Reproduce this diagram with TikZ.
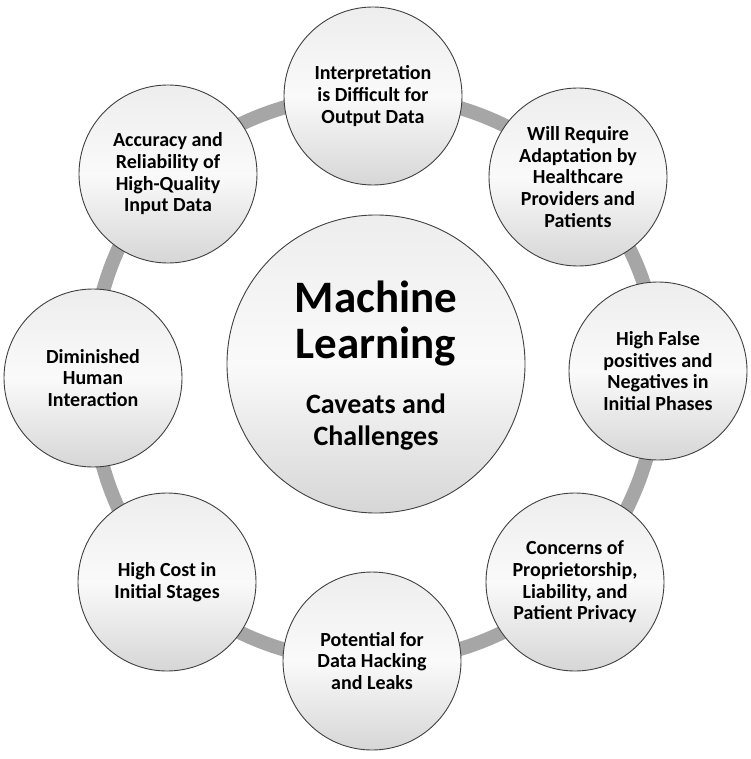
\documentclass[tikz,border=0pt]{standalone}
\usepackage{fontspec}
\setmainfont{Carlito}
\usetikzlibrary{backgrounds}
\definecolor{ringgray}{HTML}{A6A6A6}
\definecolor{edgegray}{HTML}{404040}
\begin{document}
\begin{tikzpicture}[x=1pt,y=-1pt,
  bubble/.style={circle, draw=edgegray, line width=0.9pt, minimum size=178pt, inner sep=0pt,
    top color=gray!14, bottom color=gray!32, middle color=white!96!gray,
    align=center, font=\bfseries\fontsize{20}{21.7}\selectfont},
  hub/.style={bubble, minimum size=298pt},
  ring/.style={draw=ringgray, line width=14pt, bend left=22.5, looseness=0.885},
  titletext/.style={align=center, font=\bfseries\fontsize{45}{46}\selectfont},
  subtext/.style={align=center, font=\bfseries\fontsize{28}{32}\selectfont}
]
\useasboundingbox (0,0) rectangle (750,759);

\node[hub] (ml) at (376,364) {};
\node[titletext] (mltitle) at (376,324) {Machine\\Learning};
\node[subtext] (mlsub) at (376,422) {Caveats and\\Challenges};

\node[bubble] (top) at (373,96) {Interpretation\\is Difficult for\\Output Data};
\node[bubble] (tr) at (578,177) {Will Require\\Adaptation by\\Healthcare\\Providers and\\Patients};
\node[bubble] (rt) at (658,371) {High False\\positives and\\Negatives in\\Initial Phases};
\node[bubble] (br) at (575,582) {Concerns of\\Proprietorship,\\Liability, and\\Patient Privacy};
\node[bubble] (bt) at (372,661) {Potential for\\Data Hacking\\and Leaks};
\node[bubble] (bl) at (167,582) {High Cost in\\Initial Stages};
\node[bubble] (lf) at (93,378) {Diminished\\Human\\Interaction};
\node[bubble] (tl) at (168,174) {Accuracy and\\Reliability of\\High-Quality\\Input Data};

\begin{scope}[on background layer]
\draw[ring] (top.center) to (tr.center) to (rt.center) to (br.center) to (bt.center)
  to (bl.center) to (lf.center) to (tl.center) to (top.center);
\end{scope}
\end{tikzpicture}
\end{document}
